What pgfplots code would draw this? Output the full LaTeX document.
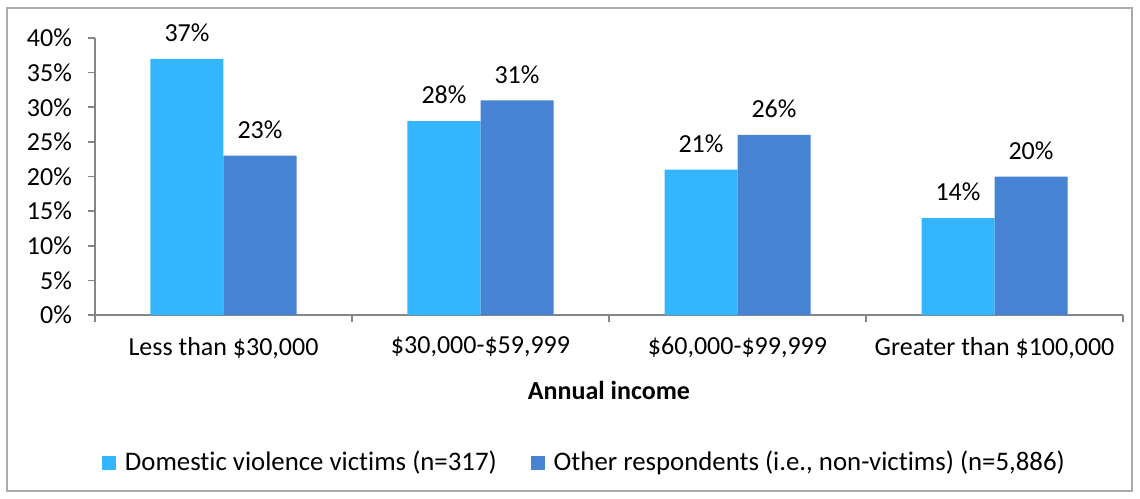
\documentclass[border=0pt]{standalone}
\usepackage{fontspec}
\setmainfont{Carlito}[Ligatures=NoCommon]
\usepackage{pgfplots}
\pgfplotsset{compat=1.18}
\definecolor{lblue}{RGB}{51,181,255}
\definecolor{dblue}{RGB}{70,131,211}
\definecolor{axgray}{RGB}{134,134,134}
\definecolor{frgray}{RGB}{170,170,170}
\begin{document}
\fontsize{13}{15}\selectfont
\begin{tikzpicture}
\useasboundingbox (-47.5pt,-91.5pt) rectangle (522.5pt,157.5pt);
\draw[frgray, line width=0.6pt] (-44pt,-88pt) rectangle (518.5pt,153.5pt);
\begin{axis}[
  at={(0pt,0pt)}, anchor=south west,
  scale only axis, width=514pt, height=138.5pt,
  /pgf/number format/assume math mode=true,
  font=\fontsize{13}{15}\selectfont,
  ymin=0, ymax=40, ytick={0,5,...,40},
  yticklabel={\pgfmathprintnumber{\tick}\%},
  xmin=-0.5, xmax=3.5, xtick={0,1,2,3},
  xticklabels={{Less than \$30,000}, {\$30,000-\$59,999}, {\$60,000-\$99,999}, {Greater than \$100,000}},
  major x tick style={draw=none},
  minor xtick={-0.5,0.5,1.5,2.5,3.5},
  tick align=outside, major tick length=3.5pt, minor tick length=3.5pt,
  axis x line*=bottom, axis y line*=left,
  axis line style={axgray, line width=0.8pt, -},
  tick style={axgray, line width=0.8pt},
  xticklabel style={yshift=-3pt},
  yticklabel style={xshift=-3.5pt},
  xlabel={\textbf{Annual income}},
  xlabel style={yshift=-2.5pt},
  ybar=0pt, bar width=36.5pt,
  nodes near coords={\pgfmathprintnumber{\pgfplotspointmeta}\%},
  nodes near coords style={black, yshift=4pt},
  legend style={at={(0.477,-0.534)}, anchor=center, draw=none, legend columns=2,
    /tikz/every even column/.append style={column sep=15pt},
    font=\fontsize{13.4}{15}\selectfont},
  legend image code/.code={\fill[#1,draw=none] (0pt,-3.5pt) rectangle (7pt,3.5pt); \path (9.5pt,0pt);},
]
\addplot[fill=lblue, draw=none] coordinates {(0,37) (1,28) (2,21) (3,14)};
\addplot[fill=dblue, draw=none] coordinates {(0,23) (1,31) (2,26) (3,20)};
\legend{{Domestic violence victims (n=317)}, {Other respondents (i.e., non-victims) (n=5,886)}}
\end{axis}
\end{tikzpicture}
\end{document}
